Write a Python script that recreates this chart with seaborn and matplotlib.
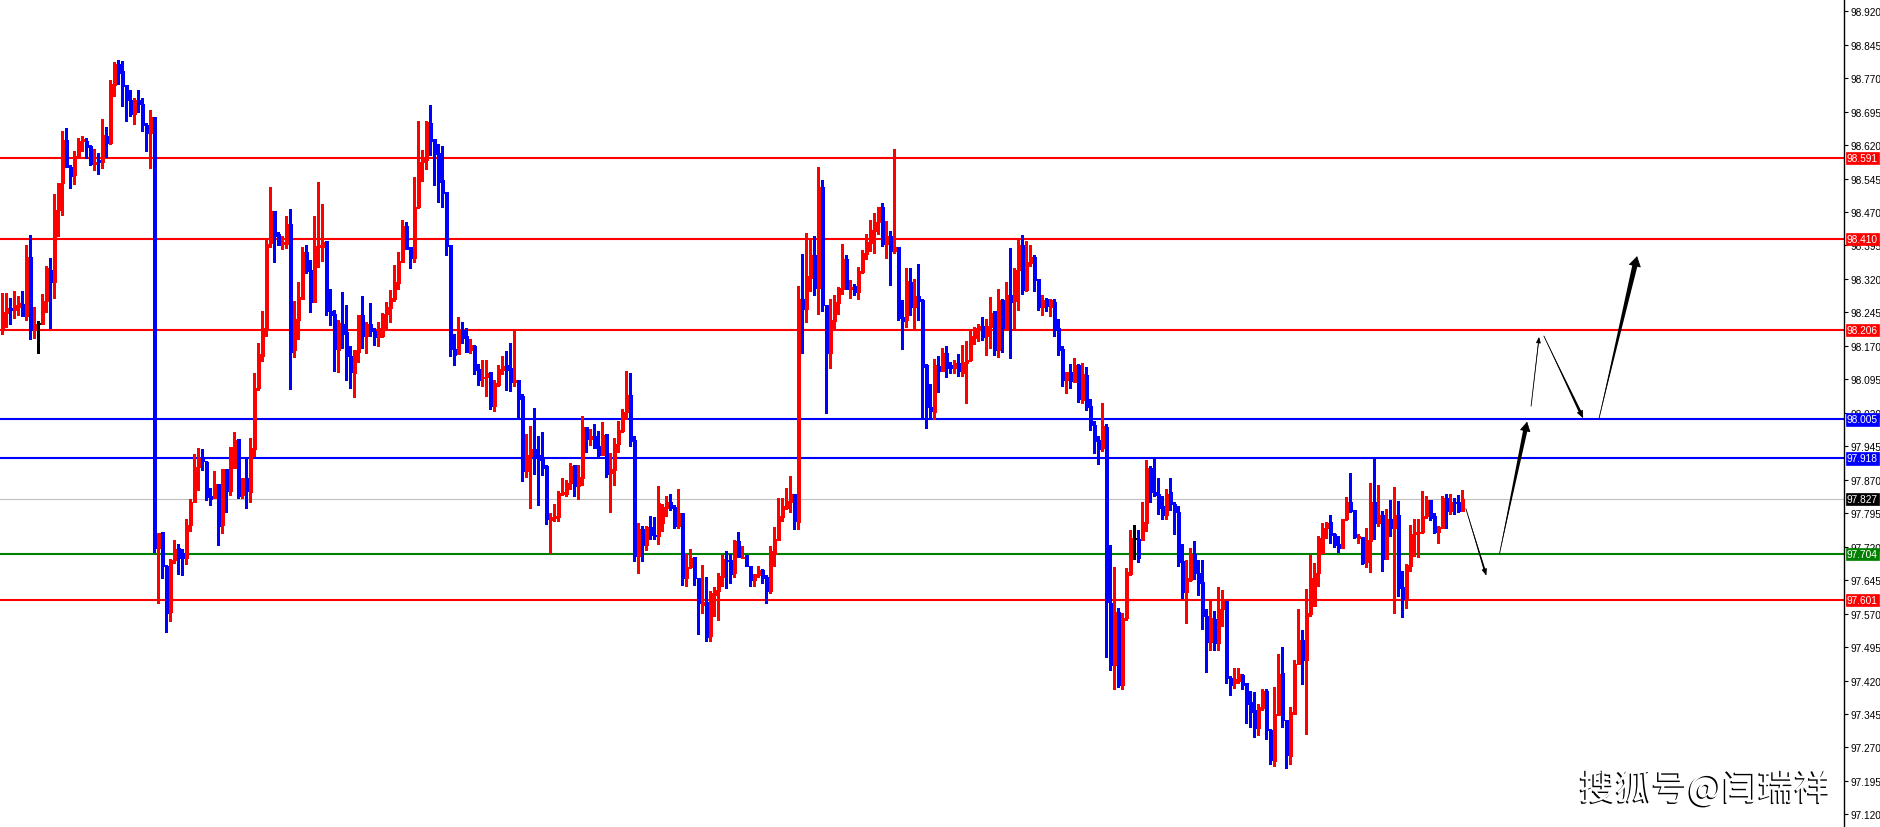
import matplotlib
matplotlib.use("Agg")
import numpy as np
import matplotlib.pyplot as plt
import matplotlib.patheffects as pe
import seaborn as sns

# ---------------- data ----------------
open_ = [
    98.206, 98.244, 98.254, 98.250, 98.258, 98.263, 98.237, 98.370, 98.206, 98.219,
    98.219, 98.270, 98.341, 98.312, 98.474, 98.536, 98.631, 98.571, 98.553, 98.593,
    98.628, 98.628, 98.618, 98.578, 98.587, 98.582, 98.640, 98.624, 98.755, 98.802,
    98.785, 98.754, 98.721, 98.689, 98.721, 98.713, 98.666, 98.647, 98.682, 97.717,
    97.752, 97.677, 97.574, 97.689, 97.716, 97.705, 97.694, 97.769, 97.819, 97.898,
    97.918, 97.909, 97.834, 97.829, 97.860, 97.769, 97.894, 97.845, 97.896, 97.962,
    97.836, 97.874, 97.843, 97.939, 98.075, 98.147, 98.209, 98.401, 98.473, 98.420,
    98.399, 98.399, 98.443, 98.161, 98.229, 98.275, 98.381, 98.339, 98.269, 98.391,
    98.391, 98.405, 98.247, 98.241, 98.161, 98.218, 98.201, 98.147, 98.109, 98.157,
    98.239, 98.191, 98.219, 98.203, 98.189, 98.191, 98.241, 98.255, 98.275, 98.311,
    98.359, 98.439, 98.391, 98.367, 98.481, 98.583, 98.587, 98.669, 98.633, 98.603,
    98.541, 98.514, 98.395, 98.163, 98.151, 98.205, 98.191, 98.161, 98.169, 98.117,
    98.097, 98.101, 98.111, 98.035, 98.083, 98.115, 98.127, 98.121, 98.089, 98.093,
    98.057, 97.889, 97.923, 97.939, 97.925, 97.919, 97.901, 97.779, 97.785, 97.787,
    97.838, 97.837, 97.863, 97.903, 97.855, 97.873, 97.989, 97.961, 97.969, 97.945,
    97.925, 97.973, 97.885, 97.891, 97.949, 97.979, 98.021, 98.059, 97.959, 97.699,
    97.759, 97.723, 97.765, 97.747, 97.743, 97.773, 97.807, 97.821, 97.809, 97.767,
    97.795, 97.649, 97.675, 97.697, 97.649, 97.589, 97.597, 97.519, 97.611, 97.621,
    97.653, 97.691, 97.689, 97.661, 97.733, 97.695, 97.701, 97.676, 97.646, 97.656,
    97.668, 97.651, 97.620, 97.703, 97.736, 97.786, 97.807, 97.821, 97.838, 97.775,
    98.274, 98.252, 98.322, 98.373, 98.299, 98.526, 98.262, 98.154, 98.226, 98.266,
    98.297, 98.364, 98.297, 98.303, 98.291, 98.336, 98.376, 98.401, 98.427, 98.448,
    98.481, 98.398, 98.417, 98.382, 98.392, 98.234, 98.228, 98.313, 98.257, 98.281,
    98.272, 98.127, 98.032, 98.022, 98.125, 98.113, 98.153, 98.127, 98.120, 98.131,
    98.110, 98.131, 98.139, 98.188, 98.208, 98.214, 98.193, 98.213, 98.247, 98.161,
    98.272, 98.209, 98.284, 98.271, 98.341, 98.395, 98.296, 98.355, 98.370, 98.320,
    98.258, 98.275, 98.258, 98.269, 98.209, 98.164, 98.094, 98.112, 98.089, 98.127,
    98.048, 98.105, 98.035, 97.993, 97.960, 97.941, 97.988, 97.594, 97.455, 97.574,
    97.411, 97.561, 97.659, 97.738, 97.738, 97.736, 97.772, 97.896, 97.842, 97.839,
    97.810, 97.790, 97.842, 97.816, 97.797, 97.687, 97.619, 97.646, 97.704, 97.662,
    97.641, 97.565, 97.507, 97.558, 97.504, 97.580, 97.598, 97.426, 97.414, 97.419,
    97.432, 97.414, 97.372, 97.354, 97.313, 97.358, 97.396, 97.310, 97.240, 97.343,
    97.436, 97.331, 97.251, 97.346, 97.458, 97.510, 97.466, 97.568, 97.587, 97.662,
    97.705, 97.761, 97.776, 97.748, 97.726, 97.716, 97.782, 97.819, 97.802, 97.739,
    97.742, 97.686, 97.733, 97.821, 97.774, 97.791, 97.692, 97.782, 97.761, 97.791,
    97.630, 97.602, 97.677, 97.748, 97.750, 97.752, 97.788, 97.824, 97.788, 97.753,
    97.761, 97.830, 97.799, 97.821, 97.821, 97.800,
]
high = [
    98.288, 98.288, 98.277, 98.294, 98.281, 98.294, 98.396, 98.418, 98.258, 98.226,
    98.286, 98.350, 98.367, 98.511, 98.536, 98.651, 98.659, 98.575, 98.606, 98.636,
    98.640, 98.636, 98.620, 98.611, 98.602, 98.678, 98.660, 98.766, 98.806, 98.810,
    98.808, 98.754, 98.744, 98.726, 98.744, 98.726, 98.669, 98.698, 98.682, 97.750,
    97.752, 97.679, 97.692, 97.736, 97.727, 97.714, 97.783, 97.827, 97.927, 97.940,
    97.938, 97.911, 97.851, 97.889, 97.860, 97.894, 97.894, 97.943, 97.978, 97.962,
    97.874, 97.922, 97.963, 98.109, 98.177, 98.247, 98.411, 98.525, 98.473, 98.426,
    98.417, 98.460, 98.477, 98.271, 98.313, 98.391, 98.395, 98.363, 98.460, 98.538,
    98.487, 98.405, 98.297, 98.250, 98.229, 98.290, 98.261, 98.169, 98.161, 98.239,
    98.281, 98.223, 98.265, 98.211, 98.223, 98.243, 98.269, 98.295, 98.351, 98.381,
    98.451, 98.447, 98.391, 98.549, 98.673, 98.609, 98.675, 98.709, 98.633, 98.623,
    98.617, 98.514, 98.395, 98.197, 98.235, 98.223, 98.209, 98.185, 98.171, 98.129,
    98.139, 98.139, 98.111, 98.093, 98.127, 98.147, 98.159, 98.177, 98.203, 98.093,
    98.061, 97.973, 97.991, 98.031, 97.969, 97.977, 97.903, 97.795, 97.815, 97.845,
    97.873, 97.869, 97.907, 97.903, 97.903, 98.013, 97.989, 97.983, 97.995, 97.979,
    97.999, 97.973, 97.929, 97.963, 98.001, 98.029, 98.113, 98.109, 97.967, 97.773,
    97.767, 97.767, 97.789, 97.787, 97.857, 97.815, 97.833, 97.837, 97.813, 97.849,
    97.795, 97.703, 97.715, 97.697, 97.649, 97.679, 97.653, 97.621, 97.629, 97.661,
    97.701, 97.711, 97.703, 97.735, 97.753, 97.721, 97.701, 97.676, 97.658, 97.676,
    97.670, 97.656, 97.721, 97.763, 97.830, 97.829, 97.851, 97.878, 97.838, 98.303,
    98.376, 98.423, 98.411, 98.417, 98.571, 98.542, 98.262, 98.276, 98.283, 98.301,
    98.398, 98.373, 98.318, 98.309, 98.347, 98.384, 98.421, 98.452, 98.467, 98.482,
    98.490, 98.449, 98.428, 98.611, 98.392, 98.272, 98.345, 98.344, 98.320, 98.353,
    98.274, 98.129, 98.085, 98.141, 98.147, 98.166, 98.170, 98.133, 98.139, 98.151,
    98.171, 98.181, 98.205, 98.212, 98.220, 98.235, 98.230, 98.280, 98.248, 98.298,
    98.276, 98.312, 98.389, 98.344, 98.411, 98.419, 98.406, 98.395, 98.373, 98.320,
    98.285, 98.278, 98.274, 98.275, 98.231, 98.170, 98.112, 98.130, 98.143, 98.130,
    98.131, 98.123, 98.051, 98.002, 97.969, 98.042, 97.994, 97.723, 97.675, 97.583,
    97.572, 97.673, 97.758, 97.769, 97.758, 97.819, 97.915, 97.900, 97.916, 97.873,
    97.833, 97.850, 97.873, 97.821, 97.810, 97.725, 97.691, 97.718, 97.733, 97.689,
    97.689, 97.581, 97.601, 97.576, 97.630, 97.623, 97.598, 97.430, 97.447, 97.447,
    97.434, 97.414, 97.396, 97.394, 97.367, 97.402, 97.402, 97.312, 97.405, 97.479,
    97.495, 97.331, 97.361, 97.465, 97.580, 97.533, 97.626, 97.702, 97.684, 97.744,
    97.774, 97.776, 97.791, 97.750, 97.744, 97.782, 97.832, 97.885, 97.802, 97.748,
    97.742, 97.761, 97.862, 97.918, 97.859, 97.799, 97.804, 97.824, 97.854, 97.823,
    97.666, 97.682, 97.769, 97.782, 97.782, 97.844, 97.833, 97.824, 97.795, 97.767,
    97.834, 97.838, 97.838, 97.829, 97.836, 97.847,
]
low = [
    98.197, 98.212, 98.219, 98.232, 98.239, 98.237, 98.228, 98.185, 98.188, 98.154,
    98.219, 98.246, 98.210, 98.277, 98.417, 98.463, 98.571, 98.523, 98.532, 98.591,
    98.607, 98.591, 98.575, 98.565, 98.556, 98.569, 98.594, 98.622, 98.729, 98.757,
    98.708, 98.674, 98.684, 98.667, 98.693, 98.651, 98.606, 98.569, 97.708, 97.594,
    97.650, 97.528, 97.553, 97.683, 97.659, 97.656, 97.681, 97.756, 97.819, 97.847,
    97.891, 97.825, 97.813, 97.829, 97.723, 97.751, 97.798, 97.836, 97.896, 97.829,
    97.829, 97.807, 97.820, 97.923, 98.071, 98.137, 98.193, 98.391, 98.359, 98.396,
    98.387, 98.389, 98.073, 98.145, 98.185, 98.275, 98.333, 98.245, 98.269, 98.347,
    98.361, 98.239, 98.217, 98.113, 98.111, 98.165, 98.093, 98.075, 98.055, 98.133,
    98.165, 98.153, 98.193, 98.173, 98.169, 98.189, 98.209, 98.223, 98.271, 98.297,
    98.357, 98.387, 98.345, 98.359, 98.479, 98.539, 98.567, 98.597, 98.530, 98.493,
    98.481, 98.373, 98.147, 98.127, 98.151, 98.177, 98.157, 98.153, 98.107, 98.083,
    98.079, 98.057, 98.029, 98.023, 98.081, 98.107, 98.071, 98.069, 98.081, 98.009,
    97.867, 97.875, 97.807, 97.883, 97.813, 97.881, 97.771, 97.705, 97.777, 97.777,
    97.835, 97.833, 97.849, 97.833, 97.827, 97.859, 97.933, 97.947, 97.941, 97.923,
    97.925, 97.875, 97.797, 97.859, 97.933, 97.977, 98.007, 97.945, 97.687, 97.661,
    97.687, 97.713, 97.737, 97.737, 97.725, 97.755, 97.789, 97.803, 97.761, 97.761,
    97.633, 97.631, 97.673, 97.633, 97.525, 97.571, 97.509, 97.509, 97.565, 97.555,
    97.631, 97.627, 97.639, 97.653, 97.697, 97.695, 97.676, 97.631, 97.631, 97.653,
    97.639, 97.593, 97.616, 97.676, 97.734, 97.778, 97.805, 97.798, 97.759, 97.759,
    98.154, 98.224, 98.293, 98.283, 98.242, 98.249, 98.019, 98.120, 98.210, 98.242,
    98.286, 98.297, 98.278, 98.284, 98.274, 98.333, 98.364, 98.382, 98.378, 98.421,
    98.394, 98.367, 98.306, 98.378, 98.228, 98.162, 98.212, 98.239, 98.207, 98.229,
    98.009, 97.985, 98.005, 98.006, 98.066, 98.113, 98.100, 98.110, 98.110, 98.102,
    98.102, 98.042, 98.135, 98.174, 98.180, 98.183, 98.150, 98.165, 98.150, 98.145,
    98.157, 98.209, 98.143, 98.209, 98.251, 98.287, 98.294, 98.348, 98.294, 98.251,
    98.240, 98.247, 98.238, 98.193, 98.150, 98.080, 98.065, 98.076, 98.089, 98.044,
    98.042, 98.026, 97.981, 97.929, 97.905, 97.934, 97.473, 97.443, 97.401, 97.405,
    97.402, 97.556, 97.657, 97.693, 97.686, 97.736, 97.754, 97.821, 97.833, 97.794,
    97.781, 97.783, 97.803, 97.749, 97.677, 97.605, 97.549, 97.644, 97.648, 97.612,
    97.536, 97.439, 97.488, 97.489, 97.489, 97.543, 97.414, 97.387, 97.404, 97.414,
    97.400, 97.325, 97.316, 97.294, 97.298, 97.354, 97.288, 97.232, 97.228, 97.343,
    97.316, 97.224, 97.232, 97.344, 97.458, 97.413, 97.301, 97.565, 97.587, 97.631,
    97.705, 97.739, 97.729, 97.720, 97.707, 97.716, 97.779, 97.798, 97.739, 97.729,
    97.681, 97.675, 97.663, 97.737, 97.767, 97.666, 97.692, 97.744, 97.571, 97.610,
    97.562, 97.583, 97.666, 97.699, 97.697, 97.750, 97.785, 97.780, 97.750, 97.729,
    97.761, 97.761, 97.793, 97.793, 97.798, 97.800,
]
close = [
    98.246, 98.254, 98.250, 98.262, 98.265, 98.237, 98.370, 98.206, 98.219, 98.219,
    98.270, 98.345, 98.312, 98.474, 98.536, 98.631, 98.571, 98.551, 98.595, 98.628,
    98.633, 98.616, 98.578, 98.583, 98.581, 98.642, 98.624, 98.757, 98.802, 98.782,
    98.752, 98.721, 98.689, 98.721, 98.713, 98.666, 98.647, 98.682, 97.717, 97.750,
    97.677, 97.572, 97.689, 97.714, 97.695, 97.695, 97.769, 97.819, 97.898, 97.918,
    97.911, 97.832, 97.827, 97.860, 97.767, 97.894, 97.845, 97.943, 97.960, 97.834,
    97.874, 97.845, 97.940, 98.075, 98.151, 98.211, 98.399, 98.473, 98.417, 98.396,
    98.402, 98.443, 98.157, 98.231, 98.279, 98.381, 98.337, 98.269, 98.393, 98.395,
    98.403, 98.247, 98.239, 98.163, 98.221, 98.197, 98.147, 98.111, 98.161, 98.239,
    98.191, 98.219, 98.203, 98.189, 98.211, 98.241, 98.257, 98.277, 98.313, 98.361,
    98.439, 98.387, 98.367, 98.481, 98.583, 98.589, 98.671, 98.629, 98.601, 98.537,
    98.513, 98.393, 98.163, 98.149, 98.205, 98.187, 98.157, 98.171, 98.115, 98.093,
    98.101, 98.109, 98.035, 98.087, 98.117, 98.125, 98.115, 98.089, 98.093, 98.051,
    97.889, 97.925, 97.939, 97.923, 97.915, 97.897, 97.781, 97.787, 97.789, 97.841,
    97.842, 97.863, 97.901, 97.857, 97.875, 97.989, 97.961, 97.969, 97.941, 97.925,
    97.971, 97.883, 97.893, 97.951, 97.981, 98.021, 98.059, 97.957, 97.699, 97.759,
    97.723, 97.765, 97.745, 97.743, 97.817, 97.809, 97.821, 97.807, 97.767, 97.795,
    97.649, 97.675, 97.695, 97.649, 97.593, 97.595, 97.517, 97.617, 97.623, 97.655,
    97.693, 97.687, 97.659, 97.733, 97.697, 97.697, 97.676, 97.646, 97.658, 97.668,
    97.649, 97.620, 97.710, 97.738, 97.788, 97.811, 97.822, 97.838, 97.778, 98.274,
    98.252, 98.326, 98.373, 98.299, 98.526, 98.261, 98.154, 98.229, 98.268, 98.299,
    98.364, 98.297, 98.301, 98.291, 98.337, 98.378, 98.403, 98.430, 98.448, 98.481,
    98.398, 98.417, 98.382, 98.392, 98.232, 98.226, 98.315, 98.257, 98.281, 98.270,
    98.122, 98.032, 98.023, 98.126, 98.113, 98.153, 98.120, 98.120, 98.131, 98.114,
    98.133, 98.139, 98.191, 98.210, 98.214, 98.189, 98.215, 98.244, 98.161, 98.272,
    98.209, 98.284, 98.269, 98.341, 98.395, 98.296, 98.359, 98.370, 98.318, 98.258,
    98.272, 98.260, 98.272, 98.206, 98.161, 98.094, 98.112, 98.092, 98.127, 98.051,
    98.107, 98.033, 97.992, 97.957, 97.939, 97.990, 97.596, 97.455, 97.574, 97.411,
    97.561, 97.663, 97.740, 97.738, 97.695, 97.776, 97.896, 97.842, 97.835, 97.807,
    97.790, 97.839, 97.815, 97.797, 97.686, 97.619, 97.650, 97.704, 97.660, 97.639,
    97.565, 97.507, 97.560, 97.504, 97.580, 97.598, 97.426, 97.411, 97.423, 97.434,
    97.411, 97.367, 97.349, 97.313, 97.361, 97.396, 97.309, 97.241, 97.346, 97.434,
    97.331, 97.253, 97.350, 97.458, 97.510, 97.466, 97.572, 97.649, 97.662, 97.739,
    97.761, 97.773, 97.747, 97.724, 97.716, 97.782, 97.821, 97.799, 97.742, 97.744,
    97.683, 97.735, 97.821, 97.774, 97.791, 97.693, 97.782, 97.761, 97.791, 97.627,
    97.602, 97.678, 97.748, 97.752, 97.753, 97.788, 97.824, 97.785, 97.753, 97.763,
    97.830, 97.800, 97.821, 97.818, 97.800, 97.827,
]

level_prices = [98.591, 98.410, 98.206, 98.005, 97.918, 97.827, 97.704, 97.601]
level_labels = ["98.591", "98.410", "98.206", "98.005", "97.918", "97.827", "97.704", "97.601"]

tick_values = [98.920, 98.845, 98.770, 98.695, 98.620, 98.545, 98.470, 98.395,
               98.320, 98.245, 98.170, 98.095, 98.020, 97.945, 97.870, 97.795,
               97.720, 97.645, 97.570, 97.495, 97.420, 97.345, 97.270, 97.195, 97.120]
tick_labels = ["98.920", "98.845", "98.770", "98.695", "98.620", "98.545", "98.470", "98.395",
               "98.320", "98.245", "98.170", "98.095", "98.020", "97.945", "97.870", "97.795",
               "97.720", "97.645", "97.570", "97.495", "97.420", "97.345", "97.270", "97.195", "97.120"]

# projected path drawn with arrows (bar index, price)
arrow_start_x = [365.9, 374.3, 382.2, 385.4, 399.2]
arrow_start_y = [97.805, 97.704, 98.035, 98.192, 98.008]
arrow_end_x = [371.0, 381.2, 384.2, 395.2, 408.7]
arrow_end_y = [97.655, 98.000, 98.190, 98.008, 98.371]

watermark = "搜狐号@闫瑞祥"

# ---------------- styling ----------------
RED = "#FF0000"
BLUE = "#0000FF"
GREEN = "#008000"
GREY = "#C0C0C0"
level_colors = [RED, RED, RED, BLUE, BLUE, GREY, GREEN, RED]
label_bg = [RED, RED, RED, BLUE, BLUE, "#000000", GREEN, RED]
level_lw = [1.5, 1.5, 1.5, 1.5, 1.5, 0.8, 1.5, 1.5]

sns.set_theme(style="white")
plt.rcParams["font.family"] = ["Liberation Sans", "DejaVu Sans"]

W, H = 1881, 828
fig = plt.figure(figsize=(W / 100, H / 100), dpi=100)
ax_right_px = 1844
ax = fig.add_axes([0, 0, ax_right_px / W, 1])
ax.set_facecolor("white")

o = np.array(open_)
h = np.array(high)
l = np.array(low)
c = np.array(close)
x = np.arange(len(o))

colors = np.where(c > o, RED, np.where(c < o, BLUE, "#000000"))

# level lines
for p, col, lw in zip(level_prices, level_colors, level_lw):
    ax.axhline(p, color=col, lw=lw, zorder=1)

# wicks
ax.vlines(x, l, h, colors=colors, lw=0.75, zorder=3, antialiased=False)
# bodies
body_bottom = np.minimum(o, c)
body_h = np.maximum(np.abs(c - o), 0.0022)
ax.bar(x, body_h, bottom=body_bottom, width=0.7, color=colors, edgecolor=colors,
       linewidth=0.4, zorder=4, antialiased=False)

ax.set_xlim(-0.575, (ax_right_px - 2.3) / 4.0)
ax.set_ylim(97.0917, 98.9473)

# arrows
tails = [0.14, 0.32, 0.04, 0.2, 0.38]
heads_w = [0.16, 0.34, 0.14, 0.2, 0.40]
heads_l = [0.40, 0.60, 0.35, 0.45, 0.65]
for x0, y0, x1, y1, tw, hw, hl in zip(arrow_start_x, arrow_start_y, arrow_end_x, arrow_end_y,
                                      tails, heads_w, heads_l):
    ax.annotate("", xy=(x0, y0), xytext=(x1, y1),
                arrowprops=dict(arrowstyle=f"wedge,tail_width={tw},shrink_factor=0.5",
                                fc="black", ec="none", shrinkA=hl * 8, shrinkB=0,
                                mutation_scale=10), zorder=6)
    ax.annotate("", xy=(x1, y1), xytext=(x0, y0),
                arrowprops=dict(arrowstyle=f"-|>,head_length={hl},head_width={hw}",
                                fc="black", ec="black", lw=0.6, shrinkA=0, shrinkB=0,
                                mutation_scale=10), zorder=6)

# axes / ticks
for s in ["left", "top", "bottom"]:
    ax.spines[s].set_visible(False)
ax.spines["right"].set_visible(True)
ax.spines["right"].set_color("black")
ax.spines["right"].set_linewidth(1.0)
ax.set_xticks([])
ax.yaxis.tick_right()
ax.set_yticks(tick_values)
ax.set_yticklabels(tick_labels)
ax.tick_params(axis="y", direction="out", length=3, width=0.8, pad=2,
               labelsize=7.3, colors="black", right=True, left=False)
ax.grid(False)

# price labels on the axis
for p, txt, bg in zip(level_prices, level_labels, label_bg):
    ax.text(1 + 3.0 / ax_right_px, p, txt, transform=ax.get_yaxis_transform(),
            ha="left", va="center", fontsize=7.3, color="white", zorder=10, clip_on=False,
            bbox=dict(boxstyle="square,pad=0.12", fc=bg, ec=bg, lw=0.5))

# watermark
fig.text(1705 / W, 1 - 790 / H, watermark, fontsize=26,
         family=["Noto Sans CJK SC", "DejaVu Sans"], color="white",
         ha="center", va="center", zorder=20,
         path_effects=[pe.withSimplePatchShadow(offset=(-1, -1), shadow_rgbFace="black", alpha=1.0)])

fig.savefig("out.png", dpi=100, facecolor="white")
